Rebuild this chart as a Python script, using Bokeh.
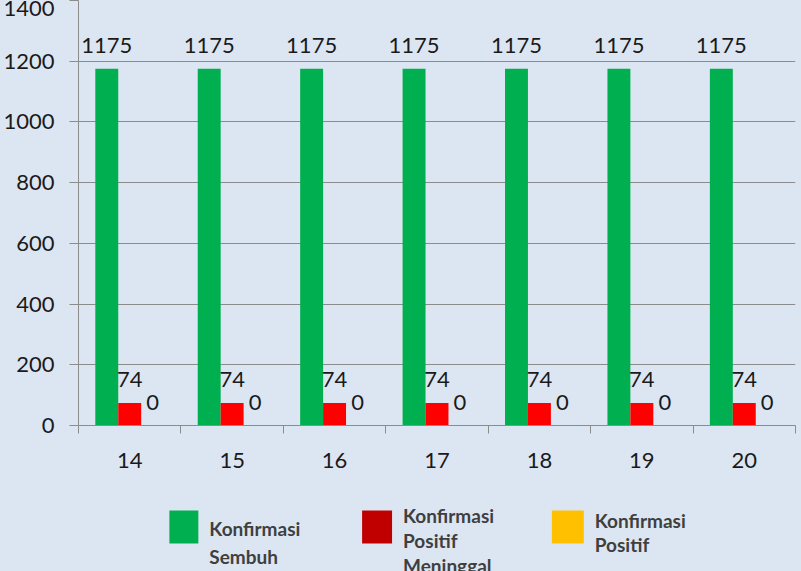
import numpy as np
from bokeh.plotting import figure
from bokeh.models import ColumnDataSource, Range1d, FixedTicker
from bokeh.layouts import column
from bokeh.core.properties import value
from bokeh.embed import file_html
from bokeh.resources import INLINE

# ---- data ----
days = ["14", "15", "16", "17", "18", "19", "20"]
sembuh = [1175, 1175, 1175, 1175, 1175, 1175, 1175]
meninggal = [74, 74, 74, 74, 74, 74, 74]
positif = [0, 0, 0, 0, 0, 0, 0]
y_ticks = [0, 200, 400, 600, 800, 1000, 1200, 1400]

series_names = ["Konfirmasi\nSembuh", "Konfirmasi\nPositif\nMeninggal", "Konfirmasi\nPositif"]
bar_colors = ["#00b050", "#ff0000", "#ffc000"]
legend_colors = ["#00b050", "#c00000", "#ffc000"]

BG = "#dce6f2"
GRID = "#8c8c8c"
FONT = "Lato"
LEFT, RIGHT = 77, 6

centers = np.arange(len(days)) + 0.5
bw = 0.224
offsets = [-bw, 0.0, bw]
values = [sembuh, meninggal, positif]

p = figure(width=801, height=490, x_range=Range1d(0, len(days)), y_range=Range1d(0, 1400),
           output_backend="svg", toolbar_location=None,
           min_border_left=LEFT, min_border_right=RIGHT, min_border_top=0, min_border_bottom=65)
p.background_fill_color = BG
p.border_fill_color = BG
p.outline_line_color = None

for vals, off, col in zip(values, offsets, bar_colors):
    src = ColumnDataSource(dict(x=centers + off, top=vals, lab=[str(v) for v in vals]))
    p.vbar(x="x", top="top", width=bw, source=src, fill_color=col, line_color=None)
    p.text(x="x", y="top", text="lab", source=src, text_align="center", text_baseline="bottom",
           y_offset=-16, text_font=value(FONT), text_font_size="22px", text_color="#1a1a1a")

p.xgrid.visible = False
p.ygrid.grid_line_color = GRID
p.ygrid.ticker = FixedTicker(ticks=y_ticks)

p.yaxis.ticker = FixedTicker(ticks=y_ticks)
p.yaxis.axis_line_color = GRID
p.yaxis.major_tick_line_color = GRID
p.yaxis.major_tick_out = 9
p.yaxis.major_tick_in = 0
p.yaxis.minor_tick_line_color = None
p.yaxis.major_label_standoff = 15
p.yaxis.major_label_text_font = FONT
p.yaxis.major_label_text_font_size = "22px"
p.yaxis.major_label_text_color = "#1a1a1a"

p.xaxis.ticker = FixedTicker(ticks=list(centers), minor_ticks=list(np.arange(len(days) + 1)))
p.xaxis.major_label_overrides = {float(c): d for c, d in zip(centers, days)}
p.xaxis.axis_line_color = GRID
p.xaxis.major_tick_line_color = None
p.xaxis.major_tick_out = 0
p.xaxis.major_tick_in = 0
p.xaxis.minor_tick_line_color = GRID
p.xaxis.minor_tick_out = 8
p.xaxis.minor_tick_in = 0
p.xaxis.major_label_standoff = 19
p.xaxis.major_label_text_font = FONT
p.xaxis.major_label_text_font_size = "22px"
p.xaxis.major_label_text_color = "#1a1a1a"

# ---- legend panel (frame aligned with main frame: data x == page pixel x) ----
lg = figure(width=801, height=81, x_range=Range1d(LEFT, 801 - RIGHT), y_range=Range1d(81, 0),
            output_backend="svg", toolbar_location=None,
            min_border_left=LEFT, min_border_right=RIGHT, min_border_top=0, min_border_bottom=0)
lg.background_fill_color = BG
lg.border_fill_color = BG
lg.outline_line_color = None
lg.axis.visible = False
lg.grid.visible = False

box_left = [168, 361, 551]
box_w = [29, 30, 32]
text_x = [208, 402, 594]
first_base = [38, 25, 30]
line_gap = [28, 25, 24]

lg.quad(left=box_left, right=[l + w for l, w in zip(box_left, box_w)], top=[20] * 3, bottom=[53] * 3,
        fill_color=legend_colors, line_color=None)
tx, ty, tt, toff = [], [], [], []
for name, x0, b0, g in zip(series_names, text_x, first_base, line_gap):
    for i, line in enumerate(name.split("\n")):
        tx.append(x0)
        ty.append(b0)
        tt.append(line)
        toff.append(i * g)
lsrc = ColumnDataSource(dict(x=tx, y=ty, t=tt, off=toff))
lg.text(x="x", y="y", text="t", y_offset="off", source=lsrc, text_align="left", text_baseline="alphabetic",
        text_font=value(FONT), text_font_size="19px", text_font_style="bold", text_color="#3f3f3f")

layout = column(p, lg, spacing=0, background=BG)
open("out.html", "w").write(file_html(layout, INLINE))
